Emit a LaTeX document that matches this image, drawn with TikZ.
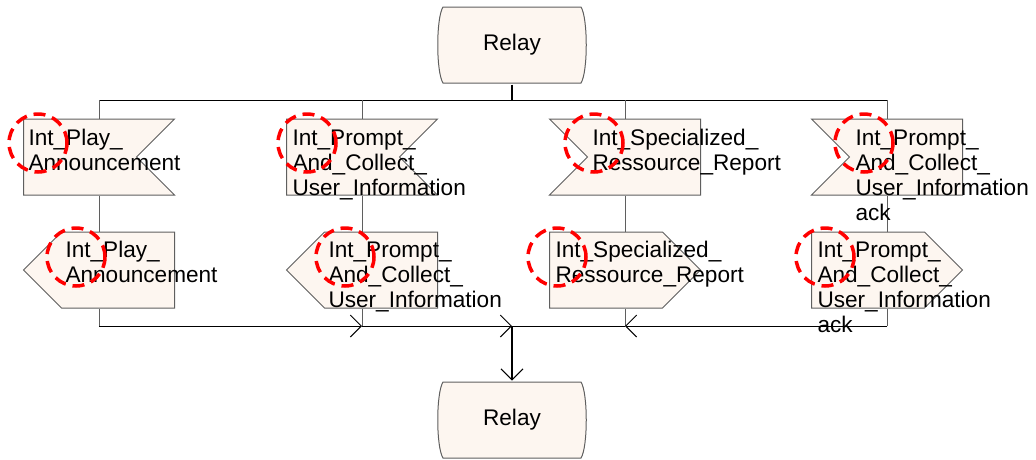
\documentclass[tikz,border=0pt]{standalone}
\usepackage{fontspec}
\setmainfont{Liberation Sans}
\usetikzlibrary{shapes.symbols,arrows.meta}
\definecolor{symfill}{RGB}{253,246,240}
\definecolor{symline}{RGB}{95,95,95}

\begin{document}
\begin{tikzpicture}[x=1pt,y=-1pt,line width=1pt,
    relay/.style ={rectangle, minimum width=152pt, minimum height=78pt, inner sep=0pt,
       font=\fontsize{22.6}{25}\selectfont,
       path picture={\filldraw[draw=symline, fill=symfill, line width=1pt]
          ([shift={(7pt,-1pt)}]path picture bounding box.north west)
          -- ([shift={(-7pt,-1pt)}]path picture bounding box.north east)
          .. controls ([shift={(0pt,-12pt)}]path picture bounding box.north east)
          and ([shift={(0pt,12pt)}]path picture bounding box.south east)
          .. ([shift={(-7pt,1pt)}]path picture bounding box.south east)
          -- ([shift={(7pt,1pt)}]path picture bounding box.south west)
          .. controls ([shift={(0pt,12pt)}]path picture bounding box.south west)
          and ([shift={(0pt,-12pt)}]path picture bounding box.north west) .. cycle;}},
    insig/.style ={signal, signal pointer angle=90, signal to=nowhere, draw=symline, fill=symfill,
       minimum width=151pt, minimum height=76pt, inner sep=0pt},
    outsig/.style ={signal, signal pointer angle=90, signal from=nowhere, draw=symline, fill=symfill,
       minimum width=151pt, minimum height=76pt, inner sep=0pt},
    sigtext/.style ={anchor=base west, align=left, inner sep=0pt, font=\fontsize{22.6}{25}\selectfont},
    branch/.style ={draw=symline, line width=1pt},
    bus/.style ={draw=black, line width=1pt},
    bold/.style ={draw=black, line width=1.8pt},
    barb/.style ={-{Straight Barb[length=11pt,width=22pt,line width=1pt]}},
    hint/.style ={draw=red, line width=3.5pt, dash pattern=on 12pt off 7pt}]
   \useasboundingbox (0,0) rectangle (1036,459);
   \node[relay] (R1) at (512,45) {Relay};
   \node[relay] (R2) at (512,420) {Relay};
   \node[insig, signal from=east] (I1) at (80,157) {};
   \node[insig, signal from=east] (I2) at (343,157) {};
   \node[insig, signal from=west] (I3) at (644,157) {};
   \node[insig, signal from=west] (I4) at (906,157) {};
   \node[outsig, signal to=west] (O1) at (118,270) {};
   \node[outsig, signal to=west] (O2) at (381,270) {};
   \node[outsig, signal to=east] (O3) at (606,270) {};
   \node[outsig, signal to=east] (O4) at (868,270) {};
   \coordinate (top) at (512,100);
   \coordinate (c1) at (99,100);
   \coordinate (c2) at (362,100);
   \coordinate (c3) at (625,100);
   \coordinate (c4) at (887,100);
   \coordinate (j2) at (362,326);
   \coordinate (j3) at (625,326);
   \coordinate (j0) at (512,326);
   \draw[bold] (R1.south) -- (top);
   \draw[bus] (c1) -- (c4);
   \draw[branch] (c1 |- I1.north) -- (c1);
   \draw[branch] (c2 |- I2.north) -- (c2);
   \draw[branch] (c3 |- I3.north) -- (c3);
   \draw[branch] (c4 |- I4.north) -- (c4);
   \draw[branch] (c1 |- I1.south) -- (c1 |- O1.north);
   \draw[branch] (c2 |- I2.south) -- (c2 |- O2.north);
   \draw[branch] (c3 |- I3.south) -- (c3 |- O3.north);
   \draw[branch] (c4 |- I4.south) -- (c4 |- O4.north);
   \draw[branch] (c1 |- O1.south) -- (c1 |- j2);
   \draw[branch] (c2 |- O2.south) -- (j2);
   \draw[branch] (c3 |- O3.south) -- (j3);
   \draw[branch] (c4 |- O4.south) -- (c4 |- j3);
   \draw[bus, barb] (c1 |- j2) -- (j2);
   \draw[bus, barb] (j2) -- (j0);
   \draw[bus, barb] (c4 |- j3) -- (j3);
   \draw[bus] (j3) -- (j0);
   \draw[bold, barb] (j0) -- (R2.north);
   \node[sigtext] (TI1) at (28,170) {Int\_Play\_\\Announcement};
   \node[sigtext] (TI2) at (292,195) {Int\_Prompt\_\\And\_Collect\_\\User\_Information};
   \node[sigtext] (TI3) at (592,170) {Int\_Specialized\_\\Ressource\_Report};
   \node[sigtext] (TI4) at (855,220) {Int\_Prompt\_\\And\_Collect\_\\User\_Information\\ack};
   \node[sigtext] (TO1) at (65,282) {Int\_Play\_\\Announcement};
   \node[sigtext] (TO2) at (328,307) {Int\_Prompt\_\\And\_Collect\_\\User\_Information};
   \node[sigtext] (TO3) at (555,282) {Int\_Specialized\_\\Ressource\_Report};
   \node[sigtext] (TO4) at (817,332) {Int\_Prompt\_\\And\_Collect\_\\User\_Information\\ack};
   \draw[hint] (38,143) circle[radius=29pt];
   \draw[hint] (307,143) circle[radius=29pt];
   \draw[hint] (594,143) circle[radius=29pt];
   \draw[hint] (864,143) circle[radius=29pt];
   \draw[hint] (76,257) circle[radius=29pt];
   \draw[hint] (345,257) circle[radius=29pt];
   \draw[hint] (557,257) circle[radius=29pt];
   \draw[hint] (825,257) circle[radius=29pt];
 \end{tikzpicture}
\end{document}
